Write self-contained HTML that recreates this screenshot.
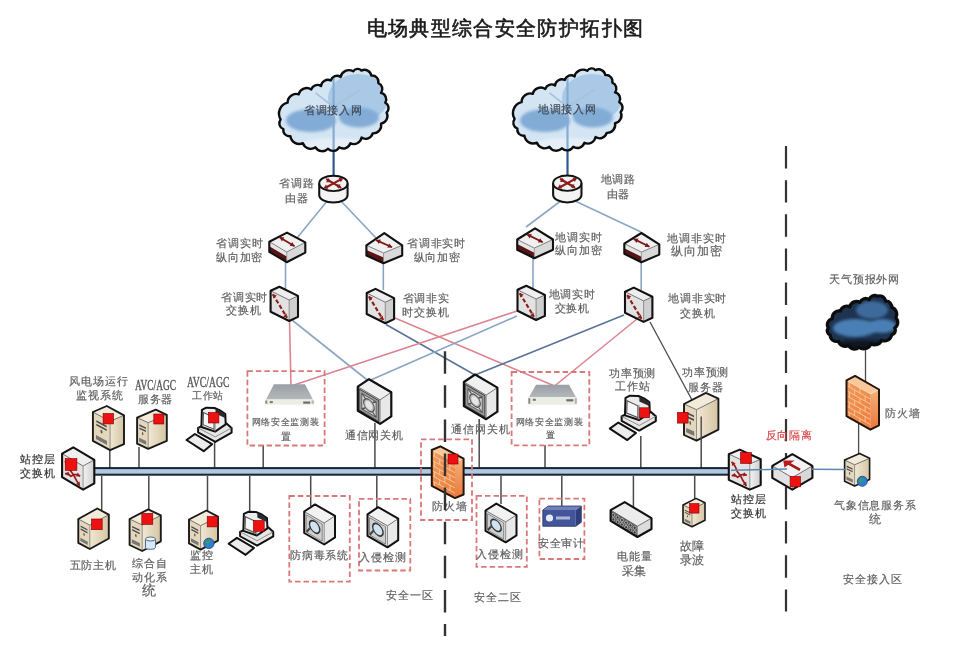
<!DOCTYPE html><html><head><meta charset="utf-8"><style>
html,body{margin:0;padding:0;background:#fff;}
svg{display:block;filter:blur(0.5px);}
text{font-family:"Liberation Serif",serif;}
</style></head><body>
<svg width="968" height="645" viewBox="0 0 968 645">
<defs>
<linearGradient id="gCloud" x1="0" y1="0" x2="0" y2="1">
<stop offset="0" stop-color="#c9dff0"/><stop offset="0.6" stop-color="#b4d0e8"/><stop offset="1" stop-color="#e6f0f8"/></linearGradient>
<linearGradient id="gDark" x1="0" y1="0" x2="0" y2="1">
<stop offset="0" stop-color="#2e4d6e"/><stop offset="1" stop-color="#14253a"/></linearGradient>
<linearGradient id="gBrick" x1="0" y1="0" x2="1" y2="1">
<stop offset="0" stop-color="#f6b27a"/><stop offset="1" stop-color="#e9843e"/></linearGradient>
<linearGradient id="gBeige" x1="0" y1="0" x2="1" y2="0">
<stop offset="0" stop-color="#f1e8d4"/><stop offset="1" stop-color="#d4c4a2"/></linearGradient>
<linearGradient id="gMon" x1="0" y1="0" x2="0" y2="1"><stop offset="0" stop-color="#9a9fa4"/><stop offset="1" stop-color="#b4b8bb"/></linearGradient>
<linearGradient id="gFwF" x1="0" y1="0" x2="1" y2="1"><stop offset="0" stop-color="#f29a5c"/><stop offset="1" stop-color="#ea7e3c"/></linearGradient>
<linearGradient id="gFwR" x1="0" y1="0" x2="0" y2="1"><stop offset="0" stop-color="#f6b07a"/><stop offset="1" stop-color="#e9783a"/></linearGradient>
<linearGradient id="gGray" x1="0" y1="0" x2="1" y2="0">
<stop offset="0" stop-color="#f2f2f2"/><stop offset="1" stop-color="#cfcfcf"/></linearGradient>
<filter id="blur1" x="-50%" y="-50%" width="200%" height="200%"><feGaussianBlur stdDeviation="1.5"/></filter>
<pattern id="pBrick" width="8" height="6" patternUnits="userSpaceOnUse">
<rect width="8" height="6" fill="#f2a466"/>
<path d="M0 0.5H8M0 3.5H8M2 0.5V3.5M6 3.5V6" stroke="#c9703a" stroke-width="0.8" fill="none"/>
</pattern>
</defs>

<rect width="968" height="645" fill="#fff"/>
<text x="366.6" y="34.6" font-size="20" letter-spacing="1.36" fill="#1a1a1a" stroke="#1a1a1a" stroke-width="0.6" style="font-family:'Liberation Sans'">电场典型综合安全防护拓扑图</text>
<line x1="333.6" y1="140" x2="333.6" y2="178" stroke="#2f5a8f" stroke-width="2.2"/>
<line x1="567.5" y1="140" x2="567.5" y2="178" stroke="#2f5a8f" stroke-width="2.2"/>
<line x1="328" y1="200" x2="297" y2="238" stroke="#8aa6c4" stroke-width="1.6"/>
<line x1="340" y1="200" x2="376" y2="238" stroke="#8aa6c4" stroke-width="1.6"/>
<line x1="562" y1="200" x2="526" y2="227" stroke="#8aa6c4" stroke-width="1.6"/>
<line x1="573" y1="200" x2="641" y2="232" stroke="#8aa6c4" stroke-width="1.6"/>
<line x1="285.5" y1="262" x2="285.5" y2="290" stroke="#8aa6c4" stroke-width="1.6"/>
<line x1="383.3" y1="262" x2="383.3" y2="290" stroke="#8aa6c4" stroke-width="1.6"/>
<line x1="533" y1="256" x2="533" y2="288" stroke="#8aa6c4" stroke-width="1.6"/>
<line x1="641.2" y1="262" x2="641.2" y2="290" stroke="#8aa6c4" stroke-width="1.6"/>
<line x1="289.5" y1="320" x2="291" y2="386" stroke="#dc8590" stroke-width="1.6"/>
<line x1="292" y1="320" x2="368.5" y2="381" stroke="#8aa6c4" stroke-width="1.6"/>
<line x1="386" y1="324.5" x2="475" y2="375" stroke="#5a7398" stroke-width="1.6"/>
<line x1="395" y1="318" x2="554.5" y2="386" stroke="#dc8590" stroke-width="1.6"/>
<line x1="517" y1="311" x2="291" y2="386" stroke="#dc8590" stroke-width="1.6"/>
<line x1="517" y1="316" x2="368.5" y2="381" stroke="#8aa6c4" stroke-width="1.6"/>
<line x1="624" y1="315" x2="475" y2="375" stroke="#5a7398" stroke-width="1.6"/>
<line x1="637" y1="319" x2="554.5" y2="386" stroke="#dc8590" stroke-width="1.6"/>
<line x1="650" y1="322" x2="692" y2="400" stroke="#4a4a4a" stroke-width="1.3"/>
<line x1="109.8" y1="449" x2="109.8" y2="468" stroke="#4a4a4a" stroke-width="1.5"/>
<line x1="139" y1="447" x2="139" y2="468" stroke="#4a4a4a" stroke-width="1.5"/>
<line x1="214.6" y1="441" x2="214.6" y2="468" stroke="#4a4a4a" stroke-width="1.5"/>
<line x1="263.2" y1="445" x2="263.2" y2="468" stroke="#4a4a4a" stroke-width="1.5"/>
<line x1="374.9" y1="423" x2="374.9" y2="468" stroke="#4a4a4a" stroke-width="1.5"/>
<line x1="479.2" y1="419" x2="479.2" y2="468" stroke="#4a4a4a" stroke-width="1.5"/>
<line x1="545" y1="445" x2="545" y2="468" stroke="#4a4a4a" stroke-width="1.5"/>
<line x1="640.8" y1="436" x2="640.8" y2="468" stroke="#4a4a4a" stroke-width="1.5"/>
<line x1="701.2" y1="416" x2="701.2" y2="468" stroke="#4a4a4a" stroke-width="1.5"/>
<line x1="101.7" y1="476" x2="101.7" y2="510" stroke="#4a4a4a" stroke-width="1.5"/>
<line x1="148.8" y1="476" x2="148.8" y2="510" stroke="#4a4a4a" stroke-width="1.5"/>
<line x1="207.5" y1="476" x2="207.5" y2="512" stroke="#4a4a4a" stroke-width="1.5"/>
<line x1="249.7" y1="476" x2="249.7" y2="512" stroke="#4a4a4a" stroke-width="1.5"/>
<line x1="310.7" y1="476" x2="310.7" y2="506" stroke="#4a4a4a" stroke-width="1.5"/>
<line x1="376.8" y1="476" x2="376.8" y2="508" stroke="#4a4a4a" stroke-width="1.5"/>
<line x1="501" y1="476" x2="501" y2="504" stroke="#4a4a4a" stroke-width="1.5"/>
<line x1="561.8" y1="476" x2="561.8" y2="507" stroke="#4a4a4a" stroke-width="1.5"/>
<line x1="633.4" y1="476" x2="633.4" y2="507" stroke="#4a4a4a" stroke-width="1.5"/>
<line x1="694.7" y1="476" x2="694.7" y2="499" stroke="#4a4a4a" stroke-width="1.5"/>
<line x1="865.5" y1="346" x2="865.5" y2="382" stroke="#4a4a4a" stroke-width="1.3"/>
<line x1="858.6" y1="423" x2="858.6" y2="456" stroke="#4a4a4a" stroke-width="1.3"/>
<rect x="90" y="468.1" width="640" height="6.6" fill="#afc8e3" stroke="#1b2230" stroke-width="2"/>
<line x1="786" y1="146.1" x2="786" y2="611.5" stroke="#333" stroke-width="2.2" stroke-dasharray="22.4 11.7"/>
<clipPath id="clip1"><path d="M280.6,119.4 A11.2,11.2 0 0 1 287.6,102.7 A8.6,8.6 0 0 1 298.7,94.3 A8.4,8.4 0 0 1 311.3,89.4 A6.4,6.4 0 0 1 321.0,86.0 A7.0,7.0 0 0 1 330.8,80.4 A6.5,6.5 0 0 1 340.6,76.9 A8.5,8.5 0 0 1 353.2,71.3 A5.2,5.2 0 0 1 361.5,70.6 A6.8,6.8 0 0 1 371.3,75.5 A6.4,6.4 0 0 1 378.3,83.1 A6.3,6.3 0 0 1 381.0,92.9 A6.6,6.6 0 0 1 385.3,102.7 A6.1,6.1 0 0 1 386.6,112.5 A7.7,7.7 0 0 1 381.0,123.6 A8.0,8.0 0 0 1 372.7,133.4 A7.4,7.4 0 0 1 361.5,137.6 A7.7,7.7 0 0 1 350.4,143.2 A7.4,7.4 0 0 1 339.2,147.3 A7.0,7.0 0 0 1 328.0,148.7 A7.8,7.8 0 0 1 315.5,147.3 A8.2,8.2 0 0 1 302.9,143.2 A8.9,8.9 0 0 1 290.4,136.2 A6.1,6.1 0 0 1 283.4,129.2 A6.3,6.3 0 0 1 280.6,119.4 Z"/></clipPath><path d="M280.6,119.4 A11.2,11.2 0 0 1 287.6,102.7 A8.6,8.6 0 0 1 298.7,94.3 A8.4,8.4 0 0 1 311.3,89.4 A6.4,6.4 0 0 1 321.0,86.0 A7.0,7.0 0 0 1 330.8,80.4 A6.5,6.5 0 0 1 340.6,76.9 A8.5,8.5 0 0 1 353.2,71.3 A5.2,5.2 0 0 1 361.5,70.6 A6.8,6.8 0 0 1 371.3,75.5 A6.4,6.4 0 0 1 378.3,83.1 A6.3,6.3 0 0 1 381.0,92.9 A6.6,6.6 0 0 1 385.3,102.7 A6.1,6.1 0 0 1 386.6,112.5 A7.7,7.7 0 0 1 381.0,123.6 A8.0,8.0 0 0 1 372.7,133.4 A7.4,7.4 0 0 1 361.5,137.6 A7.7,7.7 0 0 1 350.4,143.2 A7.4,7.4 0 0 1 339.2,147.3 A7.0,7.0 0 0 1 328.0,148.7 A7.8,7.8 0 0 1 315.5,147.3 A8.2,8.2 0 0 1 302.9,143.2 A8.9,8.9 0 0 1 290.4,136.2 A6.1,6.1 0 0 1 283.4,129.2 A6.3,6.3 0 0 1 280.6,119.4 Z" fill="#d3e4f3"/><g clip-path="url(#clip1)"><ellipse cx="358" cy="98" rx="30" ry="24" fill="#a9c9e7"/><ellipse cx="311" cy="120.5" rx="25" ry="11.5" fill="#82acd6" filter="url(#blur1)"/><ellipse cx="359" cy="117.5" rx="20" ry="10" fill="#82acd6" filter="url(#blur1)"/><ellipse cx="335" cy="147" rx="40" ry="9" fill="#e6eff8" filter="url(#blur1)"/><line x1="333.6" y1="70" x2="333.6" y2="150" stroke="#86acd3" stroke-width="2.2"/><line x1="315.5" y1="92.9" x2="333.6" y2="107" stroke="#a6c2dc" stroke-width="1.6"/><line x1="360" y1="90" x2="333.6" y2="107" stroke="#a6c2dc" stroke-width="1.6"/></g><path d="M280.6,119.4 A11.2,11.2 0 0 1 287.6,102.7 A8.6,8.6 0 0 1 298.7,94.3 A8.4,8.4 0 0 1 311.3,89.4 A6.4,6.4 0 0 1 321.0,86.0 A7.0,7.0 0 0 1 330.8,80.4 A6.5,6.5 0 0 1 340.6,76.9 A8.5,8.5 0 0 1 353.2,71.3 A5.2,5.2 0 0 1 361.5,70.6 A6.8,6.8 0 0 1 371.3,75.5 A6.4,6.4 0 0 1 378.3,83.1 A6.3,6.3 0 0 1 381.0,92.9 A6.6,6.6 0 0 1 385.3,102.7 A6.1,6.1 0 0 1 386.6,112.5 A7.7,7.7 0 0 1 381.0,123.6 A8.0,8.0 0 0 1 372.7,133.4 A7.4,7.4 0 0 1 361.5,137.6 A7.7,7.7 0 0 1 350.4,143.2 A7.4,7.4 0 0 1 339.2,147.3 A7.0,7.0 0 0 1 328.0,148.7 A7.8,7.8 0 0 1 315.5,147.3 A8.2,8.2 0 0 1 302.9,143.2 A8.9,8.9 0 0 1 290.4,136.2 A6.1,6.1 0 0 1 283.4,129.2 A6.3,6.3 0 0 1 280.6,119.4 Z" fill="none" stroke="#0d0d0d" stroke-width="2.4" stroke-linejoin="round"/>
<clipPath id="clip2"><path d="M514.6,118.9 A11.2,11.2 0 0 1 521.6,102.2 A8.6,8.6 0 0 1 532.7,93.8 A8.4,8.4 0 0 1 545.3,88.9 A6.4,6.4 0 0 1 555.0,85.5 A7.0,7.0 0 0 1 564.8,79.9 A6.5,6.5 0 0 1 574.6,76.4 A8.5,8.5 0 0 1 587.2,70.8 A5.2,5.2 0 0 1 595.5,70.1 A6.8,6.8 0 0 1 605.3,75.0 A6.4,6.4 0 0 1 612.3,82.6 A6.3,6.3 0 0 1 615.0,92.4 A6.6,6.6 0 0 1 619.3,102.2 A6.1,6.1 0 0 1 620.6,112.0 A7.7,7.7 0 0 1 615.0,123.1 A8.0,8.0 0 0 1 606.7,132.9 A7.4,7.4 0 0 1 595.5,137.1 A7.7,7.7 0 0 1 584.4,142.7 A7.4,7.4 0 0 1 573.2,146.8 A7.0,7.0 0 0 1 562.0,148.2 A7.8,7.8 0 0 1 549.5,146.8 A8.2,8.2 0 0 1 536.9,142.7 A8.9,8.9 0 0 1 524.4,135.7 A6.1,6.1 0 0 1 517.4,128.7 A6.3,6.3 0 0 1 514.6,118.9 Z"/></clipPath><path d="M514.6,118.9 A11.2,11.2 0 0 1 521.6,102.2 A8.6,8.6 0 0 1 532.7,93.8 A8.4,8.4 0 0 1 545.3,88.9 A6.4,6.4 0 0 1 555.0,85.5 A7.0,7.0 0 0 1 564.8,79.9 A6.5,6.5 0 0 1 574.6,76.4 A8.5,8.5 0 0 1 587.2,70.8 A5.2,5.2 0 0 1 595.5,70.1 A6.8,6.8 0 0 1 605.3,75.0 A6.4,6.4 0 0 1 612.3,82.6 A6.3,6.3 0 0 1 615.0,92.4 A6.6,6.6 0 0 1 619.3,102.2 A6.1,6.1 0 0 1 620.6,112.0 A7.7,7.7 0 0 1 615.0,123.1 A8.0,8.0 0 0 1 606.7,132.9 A7.4,7.4 0 0 1 595.5,137.1 A7.7,7.7 0 0 1 584.4,142.7 A7.4,7.4 0 0 1 573.2,146.8 A7.0,7.0 0 0 1 562.0,148.2 A7.8,7.8 0 0 1 549.5,146.8 A8.2,8.2 0 0 1 536.9,142.7 A8.9,8.9 0 0 1 524.4,135.7 A6.1,6.1 0 0 1 517.4,128.7 A6.3,6.3 0 0 1 514.6,118.9 Z" fill="#d3e4f3"/><g clip-path="url(#clip2)"><ellipse cx="592" cy="98" rx="30" ry="24" fill="#a9c9e7"/><ellipse cx="545" cy="120.5" rx="25" ry="11.5" fill="#82acd6" filter="url(#blur1)"/><ellipse cx="593" cy="117.5" rx="20" ry="10" fill="#82acd6" filter="url(#blur1)"/><ellipse cx="569" cy="147" rx="40" ry="9" fill="#e6eff8" filter="url(#blur1)"/><line x1="567.5" y1="70" x2="567.5" y2="150" stroke="#86acd3" stroke-width="2.2"/><line x1="549.5" y1="92.9" x2="567.5" y2="107" stroke="#a6c2dc" stroke-width="1.6"/><line x1="594" y1="90" x2="567.5" y2="107" stroke="#a6c2dc" stroke-width="1.6"/></g><path d="M514.6,118.9 A11.2,11.2 0 0 1 521.6,102.2 A8.6,8.6 0 0 1 532.7,93.8 A8.4,8.4 0 0 1 545.3,88.9 A6.4,6.4 0 0 1 555.0,85.5 A7.0,7.0 0 0 1 564.8,79.9 A6.5,6.5 0 0 1 574.6,76.4 A8.5,8.5 0 0 1 587.2,70.8 A5.2,5.2 0 0 1 595.5,70.1 A6.8,6.8 0 0 1 605.3,75.0 A6.4,6.4 0 0 1 612.3,82.6 A6.3,6.3 0 0 1 615.0,92.4 A6.6,6.6 0 0 1 619.3,102.2 A6.1,6.1 0 0 1 620.6,112.0 A7.7,7.7 0 0 1 615.0,123.1 A8.0,8.0 0 0 1 606.7,132.9 A7.4,7.4 0 0 1 595.5,137.1 A7.7,7.7 0 0 1 584.4,142.7 A7.4,7.4 0 0 1 573.2,146.8 A7.0,7.0 0 0 1 562.0,148.2 A7.8,7.8 0 0 1 549.5,146.8 A8.2,8.2 0 0 1 536.9,142.7 A8.9,8.9 0 0 1 524.4,135.7 A6.1,6.1 0 0 1 517.4,128.7 A6.3,6.3 0 0 1 514.6,118.9 Z" fill="none" stroke="#0d0d0d" stroke-width="2.4" stroke-linejoin="round"/>
<clipPath id="clip3"><path d="M828.2,327.9 A6.2,6.2 0 0 1 832.3,318.7 A7.0,7.0 0 0 1 840.5,311.0 A6.2,6.2 0 0 1 849.7,306.9 A6.9,6.9 0 0 1 859.9,302.3 A5.9,5.9 0 0 1 869.1,299.8 A5.6,5.6 0 0 1 877.3,296.2 A6.0,6.0 0 0 1 885.5,301.3 A5.3,5.3 0 0 1 891.6,307.4 A6.9,6.9 0 0 1 895.7,317.7 A6.4,6.4 0 0 1 894.7,327.9 A4.8,4.8 0 0 1 891.6,335.0 A7.1,7.1 0 0 1 881.4,340.2 A6.7,6.7 0 0 1 871.1,343.7 A7.9,7.9 0 0 1 858.9,347.3 A6.5,6.5 0 0 1 848.6,345.3 A6.8,6.8 0 0 1 838.4,341.2 A6.4,6.4 0 0 1 830.2,335.0 A4.6,4.6 0 0 1 828.2,327.9 Z"/></clipPath><path d="M828.2,327.9 A6.2,6.2 0 0 1 832.3,318.7 A7.0,7.0 0 0 1 840.5,311.0 A6.2,6.2 0 0 1 849.7,306.9 A6.9,6.9 0 0 1 859.9,302.3 A5.9,5.9 0 0 1 869.1,299.8 A5.6,5.6 0 0 1 877.3,296.2 A6.0,6.0 0 0 1 885.5,301.3 A5.3,5.3 0 0 1 891.6,307.4 A6.9,6.9 0 0 1 895.7,317.7 A6.4,6.4 0 0 1 894.7,327.9 A4.8,4.8 0 0 1 891.6,335.0 A7.1,7.1 0 0 1 881.4,340.2 A6.7,6.7 0 0 1 871.1,343.7 A7.9,7.9 0 0 1 858.9,347.3 A6.5,6.5 0 0 1 848.6,345.3 A6.8,6.8 0 0 1 838.4,341.2 A6.4,6.4 0 0 1 830.2,335.0 A4.6,4.6 0 0 1 828.2,327.9 Z" fill="#1d3350"/><g clip-path="url(#clip3)"><ellipse cx="855" cy="328" rx="22" ry="9" fill="#4a7fb4" filter="url(#blur1)"/><ellipse cx="882" cy="326" rx="14" ry="7" fill="#4a7fb4" filter="url(#blur1)"/><ellipse cx="872" cy="310" rx="16" ry="9" fill="#3c6a9a" filter="url(#blur1)"/><ellipse cx="862" cy="346" rx="30" ry="6" fill="#0b1520" filter="url(#blur1)"/></g><path d="M828.2,327.9 A6.2,6.2 0 0 1 832.3,318.7 A7.0,7.0 0 0 1 840.5,311.0 A6.2,6.2 0 0 1 849.7,306.9 A6.9,6.9 0 0 1 859.9,302.3 A5.9,5.9 0 0 1 869.1,299.8 A5.6,5.6 0 0 1 877.3,296.2 A6.0,6.0 0 0 1 885.5,301.3 A5.3,5.3 0 0 1 891.6,307.4 A6.9,6.9 0 0 1 895.7,317.7 A6.4,6.4 0 0 1 894.7,327.9 A4.8,4.8 0 0 1 891.6,335.0 A7.1,7.1 0 0 1 881.4,340.2 A6.7,6.7 0 0 1 871.1,343.7 A7.9,7.9 0 0 1 858.9,347.3 A6.5,6.5 0 0 1 848.6,345.3 A6.8,6.8 0 0 1 838.4,341.2 A6.4,6.4 0 0 1 830.2,335.0 A4.6,4.6 0 0 1 828.2,327.9 Z" fill="none" stroke="#0d0d0d" stroke-width="3.2" stroke-linejoin="round"/>
<path d="M319.2,183.4 V194.9 A14.2,7.7 0 0 0 347.59999999999997,194.9 V183.4 Z" fill="#e4e4e4"/><path d="M321.2,186.4 V194.9 A12.2,6.7 0 0 0 345.59999999999997,194.9 V186.4 Z" fill="#f4f4f4"/><ellipse cx="333.4" cy="183.4" rx="14.2" ry="7.7" fill="#f2f2f2" stroke="#111" stroke-width="1.9"/><path d="M319.2,183.4 V194.9 A14.2,7.7 0 0 0 347.59999999999997,194.9 V183.4" fill="none" stroke="#111" stroke-width="2"/><g stroke="#8b1c1c" stroke-width="2.2" fill="none" stroke-linecap="round"><line x1="326.4" y1="187.20000000000002" x2="340.4" y2="179.6"/><line x1="326.9" y1="179.4" x2="340.4" y2="187.4"/></g><polygon points="323.4,188.6 326.0,184.5 328.2,188.8" fill="#8b1c1c"/><polygon points="343.4,178.2 340.8,182.3 338.6,178.0" fill="#8b1c1c"/><polygon points="330.9,182.2 326.1,182.2 328.5,178.0" fill="#8b1c1c"/><polygon points="335.9,184.6 340.7,184.6 338.3,188.8" fill="#8b1c1c"/>
<path d="M553.0999999999999,183.2 V194.7 A14.2,7.7 0 0 0 581.5,194.7 V183.2 Z" fill="#e4e4e4"/><path d="M555.0999999999999,186.2 V194.7 A12.2,6.7 0 0 0 579.5,194.7 V186.2 Z" fill="#f4f4f4"/><ellipse cx="567.3" cy="183.2" rx="14.2" ry="7.7" fill="#f2f2f2" stroke="#111" stroke-width="1.9"/><path d="M553.0999999999999,183.2 V194.7 A14.2,7.7 0 0 0 581.5,194.7 V183.2" fill="none" stroke="#111" stroke-width="2"/><g stroke="#8b1c1c" stroke-width="2.2" fill="none" stroke-linecap="round"><line x1="560.3" y1="187.0" x2="574.3" y2="179.39999999999998"/><line x1="560.8" y1="179.2" x2="574.3" y2="187.2"/></g><polygon points="557.3,188.4 559.9,184.3 562.1,188.6" fill="#8b1c1c"/><polygon points="577.3,178.0 574.7,182.1 572.5,177.8" fill="#8b1c1c"/><polygon points="564.8,182.0 560.0,182.0 562.4,177.8" fill="#8b1c1c"/><polygon points="569.8,184.4 574.6,184.4 572.2,188.6" fill="#8b1c1c"/>
<polygon points="269.3,241.7 287.0,232.6 305.3,242.4 286.7,252.0" fill="#f0f0f0"/><polygon points="269.3,241.7 286.7,252.0 286.7,262.2 269.3,251.9" fill="#e6e6e6"/><polygon points="286.7,252.0 305.3,242.4 305.3,252.6 286.7,262.2" fill="#d9d9d9"/><polygon points="269.3,246.3 286.7,256.6 286.7,262.2 269.3,251.9" fill="#5a1414"/><polyline points="269.3,241.7 286.7,252.0 305.3,242.4" fill="none" stroke="#666" stroke-width="0.8"/><line x1="286.7" y1="252.0" x2="286.7" y2="262.2" stroke="#888" stroke-width="0.8"/><polygon points="269.3,241.7 287.0,232.6 305.3,242.4 305.3,252.6 286.7,262.2 269.3,251.9" fill="none" stroke="#111" stroke-width="2.1" stroke-linejoin="round"/><line x1="279.5" y1="237.2" x2="294.6" y2="246.2" stroke="#7a1717" stroke-width="1.8"/><polygon points="279.5,237.2 284.3,237.3 281.9,241.4" fill="#7a1717"/><polygon points="294.6,246.2 289.8,246.1 292.3,242.0" fill="#7a1717"/>
<polygon points="366.4,245.3 384.3,233.1 402.2,245.3 383.5,253.0" fill="#f0f0f0"/><polygon points="366.4,245.3 383.5,253.0 383.5,263.2 366.4,255.5" fill="#e6e6e6"/><polygon points="383.5,253.0 402.2,245.3 402.2,255.5 383.5,263.2" fill="#d9d9d9"/><polygon points="366.4,249.9 383.5,257.6 383.5,263.2 366.4,255.5" fill="#5a1414"/><polyline points="366.4,245.3 383.5,253.0 402.2,245.3" fill="none" stroke="#666" stroke-width="0.8"/><line x1="383.5" y1="253.0" x2="383.5" y2="263.2" stroke="#888" stroke-width="0.8"/><polygon points="366.4,245.3 384.3,233.1 402.2,245.3 402.2,255.5 383.5,263.2 366.4,255.5" fill="none" stroke="#111" stroke-width="2.1" stroke-linejoin="round"/><line x1="376.1" y1="240.1" x2="392.1" y2="247.3" stroke="#7a1717" stroke-width="1.8"/><polygon points="376.1,240.1 380.9,239.6 378.9,244.0" fill="#7a1717"/><polygon points="392.1,247.3 387.3,247.8 389.3,243.4" fill="#7a1717"/>
<polygon points="517.2,239.5 535.1,228.3 553.0,239.5 534.3,248.1" fill="#f0f0f0"/><polygon points="517.2,239.5 534.3,248.1 534.3,258.3 517.2,249.7" fill="#e6e6e6"/><polygon points="534.3,248.1 553.0,239.5 553.0,249.7 534.3,258.3" fill="#d9d9d9"/><polygon points="517.2,244.1 534.3,252.7 534.3,258.3 517.2,249.7" fill="#5a1414"/><polyline points="517.2,239.5 534.3,248.1 553.0,239.5" fill="none" stroke="#666" stroke-width="0.8"/><line x1="534.3" y1="248.10000000000002" x2="534.3" y2="258.3" stroke="#888" stroke-width="0.8"/><polygon points="517.2,239.5 535.1,228.3 553.0,239.5 553.0,249.7 534.3,258.3 517.2,249.7" fill="none" stroke="#111" stroke-width="2.1" stroke-linejoin="round"/><line x1="527.0" y1="234.4" x2="542.8" y2="242.3" stroke="#7a1717" stroke-width="1.8"/><polygon points="527.0,234.4 531.9,234.1 529.7,238.4" fill="#7a1717"/><polygon points="542.8,242.3 537.9,242.6 540.1,238.3" fill="#7a1717"/>
<polygon points="624.3,243.6 641.4,233.0 659.3,244.4 641.4,252.1" fill="#f0f0f0"/><polygon points="624.3,243.6 641.4,252.1 641.4,262.3 624.3,253.8" fill="#e6e6e6"/><polygon points="641.4,252.1 659.3,244.4 659.3,254.6 641.4,262.3" fill="#d9d9d9"/><polygon points="624.3,248.2 641.4,256.7 641.4,262.3 624.3,253.8" fill="#5a1414"/><polyline points="624.3,243.6 641.4,252.1 659.3,244.4" fill="none" stroke="#666" stroke-width="0.8"/><line x1="641.4" y1="252.10000000000002" x2="641.4" y2="262.3" stroke="#888" stroke-width="0.8"/><polygon points="624.3,243.6 641.4,233.0 659.3,244.4 659.3,254.6 641.4,262.3 624.3,253.8" fill="none" stroke="#111" stroke-width="2.1" stroke-linejoin="round"/><line x1="633.7" y1="238.9" x2="649.5" y2="246.7" stroke="#7a1717" stroke-width="1.8"/><polygon points="633.7,238.9 638.5,238.6 636.4,242.9" fill="#7a1717"/><polygon points="649.5,246.7 644.7,247.0 646.8,242.7" fill="#7a1717"/>
<polygon points="270.6,290.8 279.4,286.7 298.0,295.9 289.2,300.0" fill="#eeeeee"/><polygon points="270.6,290.8 289.2,300.0 289.2,321.0 270.6,311.8" fill="#e2e2e2"/><polygon points="289.2,300.0 298.0,295.9 298.0,316.9 289.2,321.0" fill="#cfcfcf"/><polyline points="270.6,290.8 289.2,300.0 298.0,295.9" fill="none" stroke="#555" stroke-width="0.8"/><line x1="289.2" y1="300.0" x2="289.2" y2="321.0" stroke="#777" stroke-width="0.8"/><line x1="272.8" y1="294.2" x2="287.1" y2="317.8" stroke="#8b1c1c" stroke-width="2.1" stroke-dasharray="4.2 2.2"/><polygon points="272.8,294.2 276.8,295.4 273.3,298.6" fill="#8b1c1c"/><polygon points="287.1,317.8 283.1,316.6 286.6,313.4" fill="#8b1c1c"/><polygon points="270.6,290.8 279.4,286.7 298.0,295.9 298.0,316.9 289.2,321.0 270.6,311.8" fill="none" stroke="#111" stroke-width="2.1" stroke-linejoin="round"/>
<polygon points="366.7,293.0 375.5,288.9 394.1,298.1 385.3,302.2" fill="#eeeeee"/><polygon points="366.7,293.0 385.3,302.2 385.3,323.2 366.7,314.0" fill="#e2e2e2"/><polygon points="385.3,302.2 394.1,298.1 394.1,319.1 385.3,323.2" fill="#cfcfcf"/><polyline points="366.7,293.0 385.3,302.2 394.1,298.1" fill="none" stroke="#555" stroke-width="0.8"/><line x1="385.3" y1="302.2" x2="385.3" y2="323.2" stroke="#777" stroke-width="0.8"/><line x1="368.9" y1="296.4" x2="383.2" y2="320" stroke="#8b1c1c" stroke-width="2.1" stroke-dasharray="4.2 2.2"/><polygon points="368.9,296.4 372.9,297.6 369.4,300.8" fill="#8b1c1c"/><polygon points="383.2,320.0 379.2,318.8 382.7,315.6" fill="#8b1c1c"/><polygon points="366.7,293.0 375.5,288.9 394.1,298.1 394.1,319.1 385.3,323.2 366.7,314.0" fill="none" stroke="#111" stroke-width="2.1" stroke-linejoin="round"/>
<polygon points="517.5,289.8 526.3,285.7 544.9,294.9 536.1,299.0" fill="#eeeeee"/><polygon points="517.5,289.8 536.1,299.0 536.1,320.0 517.5,310.8" fill="#e2e2e2"/><polygon points="536.1,299.0 544.9,294.9 544.9,315.9 536.1,320.0" fill="#cfcfcf"/><polyline points="517.5,289.8 536.1,299.0 544.9,294.9" fill="none" stroke="#555" stroke-width="0.8"/><line x1="536.1" y1="299.0" x2="536.1" y2="320.0" stroke="#777" stroke-width="0.8"/><line x1="519.7" y1="293.2" x2="534.0" y2="316.8" stroke="#8b1c1c" stroke-width="2.1" stroke-dasharray="4.2 2.2"/><polygon points="519.7,293.2 523.7,294.4 520.2,297.6" fill="#8b1c1c"/><polygon points="534.0,316.8 530.0,315.6 533.5,312.4" fill="#8b1c1c"/><polygon points="517.5,289.8 526.3,285.7 544.9,294.9 544.9,315.9 536.1,320.0 517.5,310.8" fill="none" stroke="#111" stroke-width="2.1" stroke-linejoin="round"/>
<polygon points="625.0,291.7 633.8,287.6 652.4,296.8 643.6,300.9" fill="#eeeeee"/><polygon points="625.0,291.7 643.6,300.9 643.6,321.9 625.0,312.7" fill="#e2e2e2"/><polygon points="643.6,300.9 652.4,296.8 652.4,317.8 643.6,321.9" fill="#cfcfcf"/><polyline points="625.0,291.7 643.6,300.9 652.4,296.8" fill="none" stroke="#555" stroke-width="0.8"/><line x1="643.6" y1="300.9" x2="643.6" y2="321.9" stroke="#777" stroke-width="0.8"/><line x1="627.2" y1="295.09999999999997" x2="641.5" y2="318.7" stroke="#8b1c1c" stroke-width="2.1" stroke-dasharray="4.2 2.2"/><polygon points="627.2,295.1 631.2,296.3 627.7,299.5" fill="#8b1c1c"/><polygon points="641.5,318.7 637.5,317.5 641.0,314.3" fill="#8b1c1c"/><polygon points="625.0,291.7 633.8,287.6 652.4,296.8 652.4,317.8 643.6,321.9 625.0,312.7" fill="none" stroke="#111" stroke-width="2.1" stroke-linejoin="round"/>
<rect x="247.4" y="371.2" width="77.20000000000002" height="74.30000000000001" fill="none" stroke="#d97878" stroke-width="1.8" stroke-dasharray="5.5 3"/>
<rect x="511.6" y="372" width="77.69999999999993" height="73.30000000000001" fill="none" stroke="#d97878" stroke-width="1.8" stroke-dasharray="5.5 3"/>
<rect x="421" y="439.3" width="51" height="80.69999999999999" fill="none" stroke="#d97878" stroke-width="1.8" stroke-dasharray="5.5 3"/>
<rect x="289.3" y="496" width="60.5" height="85.70000000000005" fill="none" stroke="#d97878" stroke-width="1.8" stroke-dasharray="5.5 3"/>
<rect x="359" y="498.9" width="51.30000000000001" height="71.60000000000002" fill="none" stroke="#d97878" stroke-width="1.8" stroke-dasharray="5.5 3"/>
<rect x="476.5" y="495.8" width="50.299999999999955" height="70.99999999999994" fill="none" stroke="#d97878" stroke-width="1.8" stroke-dasharray="5.5 3"/>
<rect x="539.4" y="498.7" width="45.0" height="60.30000000000001" fill="none" stroke="#d97878" stroke-width="1.8" stroke-dasharray="5.5 3"/>
<polygon points="274.0,384.3 305.0,384.3 313.0,399.5 266.0,399.5" fill="url(#gMon)"/><rect x="264.8" y="399.5" width="49.4" height="5.2" fill="#ecede4"/><rect x="265.3" y="400.5" width="2" height="3.2" fill="#8a8d86"/><rect x="311.7" y="400.5" width="2" height="3.2" fill="#b0b3ac"/><rect x="269.8" y="401.1" width="3" height="2" fill="#6f7a6a"/><rect x="303.2" y="401.5" width="7" height="2.2" fill="#6a6d66"/>
<polygon points="536.0,384.7 569.0,384.7 576.1,397.2 529.0,397.2" fill="url(#gMon)"/><rect x="527.8" y="397.2" width="49.5" height="7.5" fill="#ecede4"/><rect x="528.3" y="398.2" width="2" height="5.5" fill="#8a8d86"/><rect x="574.8" y="398.2" width="2" height="5.5" fill="#b0b3ac"/><rect x="532.8" y="398.8" width="3" height="2" fill="#6f7a6a"/><rect x="566.3" y="399.2" width="7" height="2.2" fill="#6a6d66"/>
<polygon points="357.8,386.7 369.0,379.2 391.3,392.3 380.1,399.8" fill="#f0f0f0"/><polygon points="357.8,386.7 380.1,399.8 380.1,423.9 357.8,410.8" fill="#d9d9d9"/><polygon points="380.1,399.8 391.3,392.3 391.3,416.4 380.1,423.9" fill="#e8e8e8"/><polyline points="357.8,386.7 380.1,399.8 391.3,392.3" fill="none" stroke="#555" stroke-width="0.8"/><line x1="380.1" y1="399.8" x2="380.1" y2="423.9" stroke="#777" stroke-width="0.8"/><g transform="matrix(0.223,0.131,0,0.24100000000000002,357.8,386.7)"><rect x="6" y="6" width="88" height="88" fill="#9a9a9a" stroke="#444" stroke-width="5"/><rect x="18" y="18" width="64" height="64" fill="#d9d9d9" stroke="#555" stroke-width="4"/><path d="M18,18 L34,30 M82,18 L66,30 M18,82 L34,70 M82,82 L66,70" stroke="#555" stroke-width="6"/><circle cx="50" cy="50" r="24" fill="#bdbdbd" stroke="#555" stroke-width="5"/><circle cx="50" cy="50" r="16" fill="#e6e6e6"/></g><polygon points="357.8,386.7 369.0,379.2 391.3,392.3 391.3,416.4 380.1,423.9 357.8,410.8" fill="none" stroke="#111" stroke-width="2.2" stroke-linejoin="round"/>
<polygon points="463.9,382.0 475.1,374.5 497.4,387.6 486.2,395.1" fill="#f0f0f0"/><polygon points="463.9,382.0 486.2,395.1 486.2,419.2 463.9,406.1" fill="#d9d9d9"/><polygon points="486.2,395.1 497.4,387.6 497.4,411.7 486.2,419.2" fill="#e8e8e8"/><polyline points="463.9,382.0 486.2,395.1 497.4,387.6" fill="none" stroke="#555" stroke-width="0.8"/><line x1="486.2" y1="395.1" x2="486.2" y2="419.2" stroke="#777" stroke-width="0.8"/><g transform="matrix(0.223,0.131,0,0.24100000000000002,463.9,382)"><rect x="6" y="6" width="88" height="88" fill="#9a9a9a" stroke="#444" stroke-width="5"/><rect x="18" y="18" width="64" height="64" fill="#d9d9d9" stroke="#555" stroke-width="4"/><path d="M18,18 L34,30 M82,18 L66,30 M18,82 L34,70 M82,82 L66,70" stroke="#555" stroke-width="6"/><circle cx="50" cy="50" r="24" fill="#bdbdbd" stroke="#555" stroke-width="5"/><circle cx="50" cy="50" r="16" fill="#e6e6e6"/></g><polygon points="463.9,382.0 475.1,374.5 497.4,387.6 497.4,411.7 486.2,419.2 463.9,406.1" fill="none" stroke="#111" stroke-width="2.2" stroke-linejoin="round"/>
<polygon points="62.1,453.6 73.3,447.4 94.3,459.8 83.1,466.0" fill="#efefef"/><polygon points="62.1,453.6 83.1,466.0 83.1,489.6 62.1,477.2" fill="#e3e3e3"/><polygon points="83.1,466.0 94.3,459.8 94.3,483.4 83.1,489.6" fill="url(#gGray)"/><polyline points="62.1,453.6 83.1,466.0 94.3,459.8" fill="none" stroke="#555" stroke-width="0.8"/><line x1="83.1" y1="466.0" x2="83.1" y2="489.6" stroke="#777" stroke-width="0.8"/><polyline points="65.0,461.0 68.4,465.8 70.5,470.8 73.7,475.1 76.4,480.4 79.7,485.7" fill="none" stroke="#9a1a1a" stroke-width="1.7" stroke-linejoin="round"/><polyline points="65.0,473.7 68.4,473.8 70.9,476.3 73.9,474.7 76.8,474.6 80.2,476.1" fill="none" stroke="#9a1a1a" stroke-width="1.7" stroke-linejoin="round"/><polygon points="79.7,485.7 76.0,483.9 79.7,481.5" fill="#9a1a1a"/><polygon points="65.0,461.0 68.9,462.7 65.3,465.2" fill="#9a1a1a"/><polygon points="80.2,476.1 76.0,476.6 77.8,472.6" fill="#9a1a1a"/><polygon points="65.0,473.7 68.7,471.6 68.6,476.0" fill="#9a1a1a"/><polygon points="62.1,453.6 73.3,447.4 94.3,459.8 94.3,483.4 83.1,489.6 62.1,477.2" fill="none" stroke="#111" stroke-width="2.1" stroke-linejoin="round"/><rect x="65.2" y="458.6" width="11.7" height="11.7" fill="#ee1111" stroke="#7a0000" stroke-width="0.6"/>
<polygon points="728.8,454.1 739.7,449.6 760.7,459.3 749.8,463.8" fill="#efefef"/><polygon points="728.8,454.1 749.8,463.8 749.8,489.6 728.8,479.9" fill="#e3e3e3"/><polygon points="749.8,463.8 760.7,459.3 760.7,485.1 749.8,489.6" fill="url(#gGray)"/><polyline points="728.8,454.1 749.8,463.8 760.7,459.3" fill="none" stroke="#555" stroke-width="0.8"/><line x1="749.8" y1="463.8" x2="749.8" y2="489.6" stroke="#777" stroke-width="0.8"/><polyline points="731.7,461.7 735.1,466.3 737.2,471.4 740.3,475.4 743.1,480.8 746.4,486.0" fill="none" stroke="#9a1a1a" stroke-width="1.7" stroke-linejoin="round"/><polyline points="731.7,475.6 735.1,475.1 737.6,477.3 740.6,475.0 743.5,474.3 746.9,475.3" fill="none" stroke="#9a1a1a" stroke-width="1.7" stroke-linejoin="round"/><polygon points="746.4,486.0 742.6,484.2 746.3,481.8" fill="#9a1a1a"/><polygon points="731.7,461.7 735.6,463.3 732.1,465.9" fill="#9a1a1a"/><polygon points="746.9,475.3 742.8,476.4 744.1,472.2" fill="#9a1a1a"/><polygon points="731.7,475.6 735.0,472.9 735.6,477.2" fill="#9a1a1a"/><polygon points="728.8,454.1 739.7,449.6 760.7,459.3 760.7,485.1 749.8,489.6 728.8,479.9" fill="none" stroke="#111" stroke-width="2.1" stroke-linejoin="round"/><rect x="740.5" y="452.5" width="10.9" height="10.9" fill="#ee1111" stroke="#7a0000" stroke-width="0.6"/>
<polygon points="431.8,450.0 440.4,446.3 463.6,458.7 455.0,462.4" fill="#f9c89a"/><polygon points="431.8,450.0 455.0,462.4 455.0,498.2 431.8,485.8" fill="#ee8c4e"/><polygon points="455.0,462.4 463.6,458.7 463.6,494.5 455.0,498.2" fill="url(#gFwR)"/><g transform="matrix(0.23199999999999998,0.124,0,0.358,431.8,450)"><rect x="0" y="0" width="100" height="100" fill="url(#gFwF)"/><path d="M0,14.3H100M0,28.6H100M0,42.9H100M0,57.1H100M0,71.4H100M0,85.7H100M12,0.0V14.3M56,0.0V14.3M34,14.3V28.6M78,14.3V28.6M12,28.6V42.9M56,28.6V42.9M34,42.9V57.1M78,42.9V57.1M12,57.1V71.4M56,57.1V71.4M34,71.4V85.7M78,71.4V85.7M12,85.7V100.0M56,85.7V100.0" stroke="#f8c9a0" stroke-width="0.9" fill="none" vector-effect="non-scaling-stroke"/></g><polyline points="431.8,450.0 455.0,462.4 463.6,458.7" fill="none" stroke="#fbe0c4" stroke-width="0.9"/><polygon points="431.8,450.0 440.4,446.3 463.6,458.7 463.6,494.5 455.0,498.2 431.8,485.8" fill="none" stroke="#24140a" stroke-width="2.0" stroke-linejoin="round"/><rect x="448" y="454" width="10" height="10" fill="#ee1111" stroke="#7a0000" stroke-width="0.6"/>
<polygon points="846.5,380.3 855.1,375.9 879.0,389.5 870.4,393.9" fill="#f9c89a"/><polygon points="846.5,380.3 870.4,393.9 870.4,429.7 846.5,416.1" fill="#ee8c4e"/><polygon points="870.4,393.9 879.0,389.5 879.0,425.3 870.4,429.7" fill="url(#gFwR)"/><g transform="matrix(0.239,0.136,0,0.358,846.5,380.3)"><rect x="0" y="0" width="100" height="100" fill="url(#gFwF)"/><path d="M0,14.3H100M0,28.6H100M0,42.9H100M0,57.1H100M0,71.4H100M0,85.7H100M12,0.0V14.3M56,0.0V14.3M34,14.3V28.6M78,14.3V28.6M12,28.6V42.9M56,28.6V42.9M34,42.9V57.1M78,42.9V57.1M12,57.1V71.4M56,57.1V71.4M34,71.4V85.7M78,71.4V85.7M12,85.7V100.0M56,85.7V100.0" stroke="#f8c9a0" stroke-width="0.9" fill="none" vector-effect="non-scaling-stroke"/></g><polyline points="846.5,380.3 870.4,393.9 879.0,389.5" fill="none" stroke="#fbe0c4" stroke-width="0.9"/><polygon points="846.5,380.3 855.1,375.9 879.0,389.5 879.0,425.3 870.4,429.7 846.5,416.1" fill="none" stroke="#24140a" stroke-width="2.0" stroke-linejoin="round"/>
<polygon points="92.9,412.0 106.8,406.0 124.0,415.3 110.1,421.3" fill="#f3ebda"/><polygon points="92.9,412.0 110.1,421.3 110.1,450.2 92.9,440.9" fill="#e4d7bb"/><polygon points="110.1,421.3 124.0,415.3 124.0,444.2 110.1,450.2" fill="url(#gBeige)"/><polyline points="92.9,412.0 110.1,421.3 124.0,415.3" fill="none" stroke="#555" stroke-width="0.8"/><line x1="110.1" y1="421.3" x2="110.1" y2="450.2" stroke="#777" stroke-width="0.8"/><g transform="matrix(0.172,0.09300000000000001,0,0.289,92.9,412)"><rect x="20" y="22" width="60" height="6" fill="#4a4a4a"/><rect x="20" y="34" width="60" height="6" fill="#4a4a4a"/><circle cx="50" cy="52" r="6" fill="#555"/><rect x="18" y="74" width="64" height="14" fill="#777"/></g><polygon points="92.9,412.0 106.8,406.0 124.0,415.3 124.0,444.2 110.1,450.2 92.9,440.9" fill="none" stroke="#1a1a1a" stroke-width="1.9" stroke-linejoin="round"/><rect x="103.1" y="413.5" width="10.4" height="10.4" fill="#ee1111" stroke="#7a0000" stroke-width="0.6"/>
<polygon points="137.1,417.6 155.7,409.7 166.8,414.8 148.2,422.7" fill="#f3ebda"/><polygon points="137.1,417.6 148.2,422.7 148.2,448.8 137.1,443.7" fill="#e4d7bb"/><polygon points="148.2,422.7 166.8,414.8 166.8,440.9 148.2,448.8" fill="url(#gBeige)"/><polyline points="137.1,417.6 148.2,422.7 166.8,414.8" fill="none" stroke="#555" stroke-width="0.8"/><line x1="148.2" y1="422.7" x2="148.2" y2="448.8" stroke="#777" stroke-width="0.8"/><g transform="matrix(0.111,0.051,0,0.261,137.1,417.6)"><rect x="20" y="22" width="60" height="6" fill="#4a4a4a"/><rect x="20" y="34" width="60" height="6" fill="#4a4a4a"/><circle cx="50" cy="52" r="6" fill="#555"/><rect x="18" y="74" width="64" height="14" fill="#777"/></g><polygon points="137.1,417.6 155.7,409.7 166.8,414.8 166.8,440.9 148.2,448.8 137.1,443.7" fill="none" stroke="#1a1a1a" stroke-width="1.9" stroke-linejoin="round"/><rect x="153.8" y="414" width="10" height="10" fill="#ee1111" stroke="#7a0000" stroke-width="0.6"/>
<polygon points="78.3,519.0 97.3,508.5 108.8,514.7 89.8,525.2" fill="#f3ebda"/><polygon points="78.3,519.0 89.8,525.2 89.8,549.0 78.3,542.8" fill="#e4d7bb"/><polygon points="89.8,525.2 108.8,514.7 108.8,538.5 89.8,549.0" fill="url(#gBeige)"/><polyline points="78.3,519.0 89.8,525.2 108.8,514.7" fill="none" stroke="#555" stroke-width="0.8"/><line x1="89.8" y1="525.2" x2="89.8" y2="549.0" stroke="#777" stroke-width="0.8"/><g transform="matrix(0.115,0.062,0,0.23800000000000002,78.3,519)"><rect x="20" y="22" width="60" height="6" fill="#4a4a4a"/><rect x="20" y="34" width="60" height="6" fill="#4a4a4a"/><circle cx="50" cy="52" r="6" fill="#555"/><rect x="18" y="74" width="64" height="14" fill="#777"/></g><polygon points="78.3,519.0 97.3,508.5 108.8,514.7 108.8,538.5 89.8,549.0 78.3,542.8" fill="none" stroke="#1a1a1a" stroke-width="1.9" stroke-linejoin="round"/><rect x="91.5" y="519" width="10.7" height="10.7" fill="#ee1111" stroke="#7a0000" stroke-width="0.6"/>
<polygon points="129.6,519.0 148.2,509.3 160.8,515.3 142.2,525.0" fill="#f3ebda"/><polygon points="129.6,519.0 142.2,525.0 142.2,551.0 129.6,545.0" fill="#e4d7bb"/><polygon points="142.2,525.0 160.8,515.3 160.8,541.3 142.2,551.0" fill="url(#gBeige)"/><polyline points="129.6,519.0 142.2,525.0 160.8,515.3" fill="none" stroke="#555" stroke-width="0.8"/><line x1="142.2" y1="525.0" x2="142.2" y2="551.0" stroke="#777" stroke-width="0.8"/><g transform="matrix(0.126,0.06,0,0.26,129.6,519)"><rect x="20" y="22" width="60" height="6" fill="#4a4a4a"/><rect x="20" y="34" width="60" height="6" fill="#4a4a4a"/><circle cx="50" cy="52" r="6" fill="#555"/><rect x="18" y="74" width="64" height="14" fill="#777"/></g><polygon points="129.6,519.0 148.2,509.3 160.8,515.3 160.8,541.3 142.2,551.0 129.6,545.0" fill="none" stroke="#1a1a1a" stroke-width="1.9" stroke-linejoin="round"/><rect x="141.8" y="513.4" width="11" height="11" fill="#ee1111" stroke="#7a0000" stroke-width="0.6"/><path d="M145.5,539 V547.4 A5.0,2 0 0 0 155.5,547.4 V539" fill="#d8e8f6" stroke="#4d6a88" stroke-width="1"/><ellipse cx="150.5" cy="539" rx="5.0" ry="2" fill="#eaf3fb" stroke="#4d6a88" stroke-width="1"/>
<polygon points="189.0,519.5 206.4,510.5 218.0,516.7 200.6,525.7" fill="#f3ebda"/><polygon points="189.0,519.5 200.6,525.7 200.6,549.6 189.0,543.4" fill="#e4d7bb"/><polygon points="200.6,525.7 218.0,516.7 218.0,540.6 200.6,549.6" fill="url(#gBeige)"/><polyline points="189.0,519.5 200.6,525.7 218.0,516.7" fill="none" stroke="#555" stroke-width="0.8"/><line x1="200.6" y1="525.7" x2="200.6" y2="549.6" stroke="#777" stroke-width="0.8"/><g transform="matrix(0.11599999999999999,0.062,0,0.239,189,519.5)"><rect x="20" y="22" width="60" height="6" fill="#4a4a4a"/><rect x="20" y="34" width="60" height="6" fill="#4a4a4a"/><circle cx="50" cy="52" r="6" fill="#555"/><rect x="18" y="74" width="64" height="14" fill="#777"/></g><polygon points="189.0,519.5 206.4,510.5 218.0,516.7 218.0,540.6 200.6,549.6 189.0,543.4" fill="none" stroke="#1a1a1a" stroke-width="1.9" stroke-linejoin="round"/><rect x="207.2" y="516.5" width="10.4" height="10.4" fill="#ee1111" stroke="#7a0000" stroke-width="0.6"/><circle cx="208.9" cy="543.4" r="5.2" fill="#2f7fd0" stroke="#1b3f6a" stroke-width="0.8"/><path d="M205.78,542.36 q2.08,-3.12 4.16,-1.56 q-0.52,3.12 -2.6,4.680000000000001 z" fill="#3aa04a"/>
<polygon points="684.0,404.0 705.9,392.9 718.4,398.6 696.5,409.7" fill="#f3ebda"/><polygon points="684.0,404.0 696.5,409.7 696.5,440.7 684.0,435.0" fill="#e4d7bb"/><polygon points="696.5,409.7 718.4,398.6 718.4,429.6 696.5,440.7" fill="url(#gBeige)"/><polyline points="684.0,404.0 696.5,409.7 718.4,398.6" fill="none" stroke="#555" stroke-width="0.8"/><line x1="696.5" y1="409.7" x2="696.5" y2="440.7" stroke="#777" stroke-width="0.8"/><g transform="matrix(0.125,0.057,0,0.31,684,404)"><rect x="20" y="22" width="60" height="6" fill="#4a4a4a"/><rect x="20" y="34" width="60" height="6" fill="#4a4a4a"/><circle cx="50" cy="52" r="6" fill="#555"/><rect x="18" y="74" width="64" height="14" fill="#777"/></g><polygon points="684.0,404.0 705.9,392.9 718.4,398.6 718.4,429.6 696.5,440.7 684.0,435.0" fill="none" stroke="#1a1a1a" stroke-width="1.9" stroke-linejoin="round"/><rect x="677.4" y="412.4" width="10.7" height="10.7" fill="#ee1111" stroke="#7a0000" stroke-width="0.6"/>
<polygon points="683.0,505.0 696.0,498.4 705.0,502.7 692.0,509.3" fill="#f3ebda"/><polygon points="683.0,505.0 692.0,509.3 692.0,526.8 683.0,522.5" fill="#e4d7bb"/><polygon points="692.0,509.3 705.0,502.7 705.0,520.2 692.0,526.8" fill="url(#gBeige)"/><polyline points="683.0,505.0 692.0,509.3 705.0,502.7" fill="none" stroke="#555" stroke-width="0.8"/><line x1="692.0" y1="509.3" x2="692.0" y2="526.8" stroke="#777" stroke-width="0.8"/><g transform="matrix(0.09,0.043,0,0.175,683,505)"><rect x="20" y="22" width="60" height="6" fill="#4a4a4a"/><rect x="20" y="34" width="60" height="6" fill="#4a4a4a"/><circle cx="50" cy="52" r="6" fill="#555"/><rect x="18" y="74" width="64" height="14" fill="#777"/></g><polygon points="683.0,505.0 696.0,498.4 705.0,502.7 705.0,520.2 692.0,526.8 683.0,522.5" fill="none" stroke="#1a1a1a" stroke-width="1.6" stroke-linejoin="round"/><rect x="689.5" y="503.6" width="9.5" height="9.5" fill="#ee1111" stroke="#7a0000" stroke-width="0.6"/>
<polygon points="844.6,460.0 859.6,453.5 869.6,458.3 854.6,464.8" fill="#f3ebda"/><polygon points="844.6,460.0 854.6,464.8 854.6,486.0 844.6,481.2" fill="#e4d7bb"/><polygon points="854.6,464.8 869.6,458.3 869.6,479.5 854.6,486.0" fill="url(#gBeige)"/><polyline points="844.6,460.0 854.6,464.8 869.6,458.3" fill="none" stroke="#555" stroke-width="0.8"/><line x1="854.6" y1="464.8" x2="854.6" y2="486.0" stroke="#777" stroke-width="0.8"/><g transform="matrix(0.1,0.048,0,0.212,844.6,460)"><rect x="20" y="22" width="60" height="6" fill="#4a4a4a"/><rect x="20" y="34" width="60" height="6" fill="#4a4a4a"/><circle cx="50" cy="52" r="6" fill="#555"/><rect x="18" y="74" width="64" height="14" fill="#777"/></g><polygon points="844.6,460.0 859.6,453.5 869.6,458.3 869.6,479.5 854.6,486.0 844.6,481.2" fill="none" stroke="#1a1a1a" stroke-width="1.6" stroke-linejoin="round"/><circle cx="862.3" cy="481.3" r="5" fill="#2f7fd0" stroke="#1b3f6a" stroke-width="0.8"/><path d="M859.3,480.3 q2.0,-3.0 4.0,-1.5 q-0.5,3.0 -2.5,4.5 z" fill="#3aa04a"/>
<line x1="701.2" y1="416.6" x2="701.2" y2="440" stroke="#4a4a4a" stroke-width="1.4"/>
<g transform="translate(186.5,407.4) scale(1.0)"><polygon points="11.6,20.5 18.6,17 40,16 45.1,20.5 45.1,25.2 28.8,34.5 11.6,25" fill="#e6e6e6" stroke="#111" stroke-width="2" stroke-linejoin="round"/><polyline points="11.6,20.5 28.8,29.5 45.1,20.5" fill="none" stroke="#777" stroke-width="0.8"/><polygon points="15.4,2.5 19.8,0.3 28,0.6 33.5,3 38.8,6.6 39.2,17 28.6,24.2 14.9,19.6" fill="#ececec" stroke="#111" stroke-width="2" stroke-linejoin="round"/><polygon points="29,1.5 33.5,3.4 38.5,6.9 38.6,10.5 29,6" fill="#2a2a2a"/><polygon points="17,5.2 27.5,10.2 27.5,21.8 16.6,17.3" fill="#f6f7f9" stroke="#555" stroke-width="1.1"/><line x1="28.6" y1="9.6" x2="28.6" y2="24" stroke="#777" stroke-width="0.8"/><polygon points="0,32.6 8.4,26.6 25.6,36.8 17.2,43.8" fill="#ececec" stroke="#111" stroke-width="2" stroke-linejoin="round"/></g><rect x="208.4" y="412.5" width="10.5" height="10.5" fill="#ee1111" stroke="#7a0000" stroke-width="0.6"/>
<g transform="translate(228.6,511.5) scale(0.99)"><polygon points="11.6,20.5 18.6,17 40,16 45.1,20.5 45.1,25.2 28.8,34.5 11.6,25" fill="#e6e6e6" stroke="#111" stroke-width="2" stroke-linejoin="round"/><polyline points="11.6,20.5 28.8,29.5 45.1,20.5" fill="none" stroke="#777" stroke-width="0.8"/><polygon points="15.4,2.5 19.8,0.3 28,0.6 33.5,3 38.8,6.6 39.2,17 28.6,24.2 14.9,19.6" fill="#ececec" stroke="#111" stroke-width="2" stroke-linejoin="round"/><polygon points="29,1.5 33.5,3.4 38.5,6.9 38.6,10.5 29,6" fill="#2a2a2a"/><polygon points="17,5.2 27.5,10.2 27.5,21.8 16.6,17.3" fill="#f6f7f9" stroke="#555" stroke-width="1.1"/><line x1="28.6" y1="9.6" x2="28.6" y2="24" stroke="#777" stroke-width="0.8"/><polygon points="0,32.6 8.4,26.6 25.6,36.8 17.2,43.8" fill="#ececec" stroke="#111" stroke-width="2" stroke-linejoin="round"/></g><rect x="253.4" y="520.5" width="10.8" height="10.8" fill="#ee1111" stroke="#7a0000" stroke-width="0.6"/>
<g transform="translate(609.8,395.4) scale(1.02)"><polygon points="11.6,20.5 18.6,17 40,16 45.1,20.5 45.1,25.2 28.8,34.5 11.6,25" fill="#e6e6e6" stroke="#111" stroke-width="2" stroke-linejoin="round"/><polyline points="11.6,20.5 28.8,29.5 45.1,20.5" fill="none" stroke="#777" stroke-width="0.8"/><polygon points="15.4,2.5 19.8,0.3 28,0.6 33.5,3 38.8,6.6 39.2,17 28.6,24.2 14.9,19.6" fill="#ececec" stroke="#111" stroke-width="2" stroke-linejoin="round"/><polygon points="29,1.5 33.5,3.4 38.5,6.9 38.6,10.5 29,6" fill="#2a2a2a"/><polygon points="17,5.2 27.5,10.2 27.5,21.8 16.6,17.3" fill="#f6f7f9" stroke="#555" stroke-width="1.1"/><line x1="28.6" y1="9.6" x2="28.6" y2="24" stroke="#777" stroke-width="0.8"/><polygon points="0,32.6 8.4,26.6 25.6,36.8 17.2,43.8" fill="#ececec" stroke="#111" stroke-width="2" stroke-linejoin="round"/></g><rect x="639.6" y="407.8" width="10" height="10" fill="#ee1111" stroke="#7a0000" stroke-width="0.6"/>
<polygon points="304.2,511.5 315.0,504.4 335.0,515.9 324.2,523.0" fill="#f2f2f2"/><polygon points="304.2,511.5 324.2,523.0 324.2,544.5 304.2,533.0" fill="#dedede"/><polygon points="324.2,523.0 335.0,515.9 335.0,537.4 324.2,544.5" fill="#e9e9e9"/><polyline points="304.2,511.5 324.2,523.0 335.0,515.9" fill="none" stroke="#555" stroke-width="0.8"/><line x1="324.2" y1="523.0" x2="324.2" y2="544.5" stroke="#777" stroke-width="0.8"/><g transform="matrix(0.2,0.115,0,0.215,304.2,511.5)"><rect x="10" y="10" width="80" height="80" fill="#d0d0d0" stroke="#666" stroke-width="3"/><line x1="30" y1="60" x2="12" y2="88" stroke="#444" stroke-width="8"/><circle cx="52" cy="44" r="26" fill="#cfe3f2" stroke="#333" stroke-width="7"/></g><polygon points="304.2,511.5 315.0,504.4 335.0,515.9 335.0,537.4 324.2,544.5 304.2,533.0" fill="none" stroke="#111" stroke-width="2.0" stroke-linejoin="round"/>
<polygon points="367.5,514.3 378.2,507.2 398.2,518.7 387.5,525.8" fill="#f2f2f2"/><polygon points="367.5,514.3 387.5,525.8 387.5,547.3 367.5,535.8" fill="#dedede"/><polygon points="387.5,525.8 398.2,518.7 398.2,540.2 387.5,547.3" fill="#e9e9e9"/><polyline points="367.5,514.3 387.5,525.8 398.2,518.7" fill="none" stroke="#555" stroke-width="0.8"/><line x1="387.5" y1="525.8" x2="387.5" y2="547.3" stroke="#777" stroke-width="0.8"/><g transform="matrix(0.2,0.115,0,0.215,367.5,514.3)"><rect x="10" y="10" width="80" height="80" fill="#d0d0d0" stroke="#666" stroke-width="3"/><line x1="30" y1="60" x2="12" y2="88" stroke="#444" stroke-width="8"/><circle cx="52" cy="44" r="26" fill="#cfe3f2" stroke="#333" stroke-width="7"/></g><polygon points="367.5,514.3 378.2,507.2 398.2,518.7 398.2,540.2 387.5,547.3 367.5,535.8" fill="none" stroke="#111" stroke-width="2.0" stroke-linejoin="round"/>
<polygon points="485.5,510.5 496.3,503.6 516.5,515.0 505.7,521.9" fill="#f2f2f2"/><polygon points="485.5,510.5 505.7,521.9 505.7,542.3 485.5,530.9" fill="#dedede"/><polygon points="505.7,521.9 516.5,515.0 516.5,535.4 505.7,542.3" fill="#e9e9e9"/><polyline points="485.5,510.5 505.7,521.9 516.5,515.0" fill="none" stroke="#555" stroke-width="0.8"/><line x1="505.7" y1="521.9" x2="505.7" y2="542.3" stroke="#777" stroke-width="0.8"/><g transform="matrix(0.20199999999999999,0.114,0,0.204,485.5,510.5)"><rect x="10" y="10" width="80" height="80" fill="#d0d0d0" stroke="#666" stroke-width="3"/><line x1="30" y1="60" x2="12" y2="88" stroke="#444" stroke-width="8"/><circle cx="52" cy="44" r="26" fill="#cfe3f2" stroke="#333" stroke-width="7"/></g><polygon points="485.5,510.5 496.3,503.6 516.5,515.0 516.5,535.4 505.7,542.3 485.5,530.9" fill="none" stroke="#111" stroke-width="2.0" stroke-linejoin="round"/>
<polygon points="542.8,510.0 548.3,506.0 581.3,506.0 575.8,510.0" fill="#6f80bb"/><polygon points="542.8,510.0 575.8,510.0 575.8,526.3 542.8,526.3" fill="#42559a"/><polygon points="575.8,510.0 581.3,506.0 581.3,522.3 575.8,526.3" fill="#2f3f7e"/><polygon points="542.8,510.0 548.3,506.0 581.3,506.0 581.3,522.3 575.8,526.3 542.8,526.3" fill="none" stroke="#2a3566" stroke-width="0.8" stroke-linejoin="round"/>
<circle cx="549.5" cy="518" r="3.6" fill="#e8ecf8"/><rect x="556" y="516.5" width="14" height="3" fill="#c9d0ea" opacity="0.8"/>
<polygon points="610.6,510.1 624.7,502.1 651.5,518.2 637.4,526.2" fill="#ececec"/><polygon points="610.6,510.1 637.4,526.2 637.4,537.0 610.6,520.9" fill="#5e5e5e"/><polygon points="637.4,526.2 651.5,518.2 651.5,529.0 637.4,537.0" fill="#dcdcdc"/><polyline points="610.6,510.1 637.4,526.2 651.5,518.2" fill="none" stroke="#555" stroke-width="0.8"/><line x1="637.4" y1="526.2" x2="637.4" y2="537.0" stroke="#777" stroke-width="0.8"/><ellipse cx="613.3" cy="515.0" rx="1.5" ry="1.7" fill="#3a3a3a" stroke="#cfcfcf" stroke-width="0.7"/><ellipse cx="613.3" cy="519.5" rx="1.5" ry="1.7" fill="#3a3a3a" stroke="#cfcfcf" stroke-width="0.7"/><ellipse cx="617.6" cy="517.5" rx="1.5" ry="1.7" fill="#3a3a3a" stroke="#cfcfcf" stroke-width="0.7"/><ellipse cx="617.6" cy="522.1" rx="1.5" ry="1.7" fill="#3a3a3a" stroke="#cfcfcf" stroke-width="0.7"/><ellipse cx="621.9" cy="520.1" rx="1.5" ry="1.7" fill="#3a3a3a" stroke="#cfcfcf" stroke-width="0.7"/><ellipse cx="621.9" cy="524.6" rx="1.5" ry="1.7" fill="#3a3a3a" stroke="#cfcfcf" stroke-width="0.7"/><ellipse cx="626.1" cy="522.7" rx="1.5" ry="1.7" fill="#3a3a3a" stroke="#cfcfcf" stroke-width="0.7"/><ellipse cx="626.1" cy="527.2" rx="1.5" ry="1.7" fill="#3a3a3a" stroke="#cfcfcf" stroke-width="0.7"/><ellipse cx="630.4" cy="525.3" rx="1.5" ry="1.7" fill="#3a3a3a" stroke="#cfcfcf" stroke-width="0.7"/><ellipse cx="630.4" cy="529.8" rx="1.5" ry="1.7" fill="#3a3a3a" stroke="#cfcfcf" stroke-width="0.7"/><ellipse cx="634.7" cy="527.8" rx="1.5" ry="1.7" fill="#3a3a3a" stroke="#cfcfcf" stroke-width="0.7"/><ellipse cx="634.7" cy="532.4" rx="1.5" ry="1.7" fill="#3a3a3a" stroke="#cfcfcf" stroke-width="0.7"/><polygon points="610.6,510.1 624.7,502.1 651.5,518.2 651.5,529.0 637.4,537.0 610.6,520.9" fill="none" stroke="#111" stroke-width="2.1" stroke-linejoin="round"/>
<polygon points="772.3,465.9 792.4,454.2 812.4,465.9 792.3,477.6" fill="#f2f2f2"/><polygon points="772.3,465.9 792.3,477.6 792.3,489.6 772.3,477.9" fill="#e2e2e2"/><polygon points="792.3,477.6 812.4,465.9 812.4,477.9 792.3,489.6" fill="#d8d8d8"/><polyline points="772.3,465.9 792.3,477.6 812.4,465.9" fill="none" stroke="#555" stroke-width="0.8"/><line x1="792.3" y1="477.6" x2="792.3" y2="489.6" stroke="#777" stroke-width="0.8"/><polygon points="772.3,465.9 792.4,454.2 812.4,465.9 812.4,477.9 792.3,489.6 772.3,477.9" fill="none" stroke="#111" stroke-width="2.1" stroke-linejoin="round"/>
<line x1="800" y1="469.9" x2="787" y2="462.6" stroke="#a01818" stroke-width="2.8"/><polygon points="783.2,460.4 794.5,460.6 784.5,467.5" fill="#c0161a"/>
<line x1="731" y1="470.2" x2="787" y2="469.1" stroke="#5c88b4" stroke-width="1.5"/>
<line x1="812" y1="469.3" x2="846" y2="469.5" stroke="#5c88b4" stroke-width="1.5"/>
<rect x="790.1" y="476.5" width="10.4" height="10.3" fill="#ee1111" stroke="#7a0000" stroke-width="0.6"/>
<text x="333.3" y="113.5" font-size="10.70" letter-spacing="0.81" fill="#3d4956" stroke="#3d4956" stroke-width="0.2" font-weight="normal" text-anchor="middle">省调接入网</text>
<text x="567.3" y="113.3" font-size="10.91" letter-spacing="0.82" fill="#3d4956" stroke="#3d4956" stroke-width="0.2" font-weight="normal" text-anchor="middle">地调接入网</text>
<text x="296.9" y="187.1" font-size="10.77" letter-spacing="0.81" fill="#606060" stroke="#606060" stroke-width="0.18" font-weight="normal" text-anchor="middle">省调路</text>
<text x="296.9" y="201.6" font-size="10.56" letter-spacing="0.79" fill="#606060" stroke="#606060" stroke-width="0.18" font-weight="normal" text-anchor="middle">由器</text>
<text x="618.4" y="183.2" font-size="11.09" letter-spacing="0.84" fill="#606060" stroke="#606060" stroke-width="0.18" font-weight="normal" text-anchor="middle">地调路</text>
<text x="618.4" y="198.2" font-size="11.06" letter-spacing="0.83" fill="#606060" stroke="#606060" stroke-width="0.18" font-weight="normal" text-anchor="middle">由器</text>
<text x="239.9" y="247.2" font-size="10.87" letter-spacing="0.82" fill="#606060" stroke="#606060" stroke-width="0.18" font-weight="normal" text-anchor="middle">省调实时</text>
<text x="239.6" y="260.8" font-size="11.04" letter-spacing="0.83" fill="#606060" stroke="#606060" stroke-width="0.18" font-weight="normal" text-anchor="middle">纵向加密</text>
<text x="436.4" y="246.6" font-size="10.53" letter-spacing="0.79" fill="#606060" stroke="#606060" stroke-width="0.18" font-weight="normal" text-anchor="middle">省调非实时</text>
<text x="437.3" y="260.7" font-size="11.06" letter-spacing="0.83" fill="#606060" stroke="#606060" stroke-width="0.18" font-weight="normal" text-anchor="middle">纵向加密</text>
<text x="578.9" y="241.3" font-size="11.16" letter-spacing="0.84" fill="#606060" stroke="#606060" stroke-width="0.18" font-weight="normal" text-anchor="middle">地调实时</text>
<text x="578.9" y="254.4" font-size="11.16" letter-spacing="0.84" fill="#606060" stroke="#606060" stroke-width="0.18" font-weight="normal" text-anchor="middle">纵向加密</text>
<text x="697.0" y="241.8" font-size="11.24" letter-spacing="0.85" fill="#606060" stroke="#606060" stroke-width="0.18" font-weight="normal" text-anchor="middle">地调非实时</text>
<text x="697.0" y="254.9" font-size="11.55" letter-spacing="0.87" fill="#606060" stroke="#606060" stroke-width="0.18" font-weight="normal" text-anchor="middle">纵向加密</text>
<text x="244.6" y="301.0" font-size="10.87" letter-spacing="0.82" fill="#606060" stroke="#606060" stroke-width="0.18" font-weight="normal" text-anchor="middle">省调实时</text>
<text x="244.2" y="314.2" font-size="10.93" letter-spacing="0.82" fill="#606060" stroke="#606060" stroke-width="0.18" font-weight="normal" text-anchor="middle">交换机</text>
<text x="426.2" y="301.7" font-size="11.02" letter-spacing="0.83" fill="#606060" stroke="#606060" stroke-width="0.18" font-weight="normal" text-anchor="middle">省调非实</text>
<text x="425.8" y="315.5" font-size="10.80" letter-spacing="0.81" fill="#606060" stroke="#606060" stroke-width="0.18" font-weight="normal" text-anchor="middle">时交换机</text>
<text x="572.3" y="298.0" font-size="11.16" letter-spacing="0.84" fill="#606060" stroke="#606060" stroke-width="0.18" font-weight="normal" text-anchor="middle">地调实时</text>
<text x="572.3" y="312.3" font-size="10.77" letter-spacing="0.81" fill="#606060" stroke="#606060" stroke-width="0.18" font-weight="normal" text-anchor="middle">交换机</text>
<text x="697.6" y="301.9" font-size="11.03" letter-spacing="0.83" fill="#606060" stroke="#606060" stroke-width="0.18" font-weight="normal" text-anchor="middle">地调非实时</text>
<text x="697.6" y="316.6" font-size="11.00" letter-spacing="0.83" fill="#606060" stroke="#606060" stroke-width="0.18" font-weight="normal" text-anchor="middle">交换机</text>
<text x="285.6" y="424.7" font-size="8.62" letter-spacing="0.65" fill="#606060" stroke="#606060" stroke-width="0.18" font-weight="normal" text-anchor="middle">网络安全监测装</text>
<text x="285.9" y="439.5" font-size="9.85" letter-spacing="0.74" fill="#606060" stroke="#606060" stroke-width="0.18" font-weight="normal" text-anchor="middle">置</text>
<text x="549.6" y="424.9" font-size="8.62" letter-spacing="0.65" fill="#606060" stroke="#606060" stroke-width="0.18" font-weight="normal" text-anchor="middle">网络安全监测装</text>
<text x="550.4" y="438.0" font-size="9.30" letter-spacing="0.70" fill="#606060" stroke="#606060" stroke-width="0.18" font-weight="normal" text-anchor="middle">置</text>
<text x="374.3" y="438.6" font-size="11.06" letter-spacing="0.83" fill="#606060" stroke="#606060" stroke-width="0.18" font-weight="normal" text-anchor="middle">通信网关机</text>
<text x="480.9" y="433.1" font-size="11.31" letter-spacing="0.85" fill="#606060" stroke="#606060" stroke-width="0.18" font-weight="normal" text-anchor="middle">通信网关机</text>
<text x="99.0" y="384.9" font-size="10.70" letter-spacing="0.81" fill="#606060" stroke="#606060" stroke-width="0.18" font-weight="normal" text-anchor="middle">风电场运行</text>
<text x="99.7" y="398.8" font-size="11.38" letter-spacing="0.86" fill="#606060" stroke="#606060" stroke-width="0.18" font-weight="normal" text-anchor="middle">监视系统</text>
<text x="135.0" y="390.0" font-size="13.64" fill="#555" stroke="#555" stroke-width="0.35" textLength="41.0" lengthAdjust="spacingAndGlyphs">AVC/AGC</text>
<text x="155.5" y="402.5" font-size="11.32" letter-spacing="0.85" fill="#606060" stroke="#606060" stroke-width="0.18" font-weight="normal" text-anchor="middle">服务器</text>
<text x="187.0" y="386.5" font-size="14.39" fill="#555" stroke="#555" stroke-width="0.35" textLength="42.4" lengthAdjust="spacingAndGlyphs">AVC/AGC</text>
<text x="207.9" y="399.1" font-size="10.12" letter-spacing="0.76" fill="#606060" stroke="#606060" stroke-width="0.18" font-weight="normal" text-anchor="middle">工作站</text>
<text x="38.0" y="462.6" font-size="11.13" letter-spacing="0.84" fill="#333" stroke="#333" stroke-width="0.18" font-weight="normal" text-anchor="middle">站控层</text>
<text x="38.0" y="476.5" font-size="11.13" letter-spacing="0.84" fill="#333" stroke="#333" stroke-width="0.18" font-weight="normal" text-anchor="middle">交换机</text>
<text x="93.3" y="568.7" font-size="11.06" letter-spacing="0.83" fill="#606060" stroke="#606060" stroke-width="0.18" font-weight="normal" text-anchor="middle">五防主机</text>
<text x="149.7" y="566.6" font-size="11.29" letter-spacing="0.85" fill="#606060" stroke="#606060" stroke-width="0.18" font-weight="normal" text-anchor="middle">综合自</text>
<text x="149.7" y="580.7" font-size="11.29" letter-spacing="0.85" fill="#606060" stroke="#606060" stroke-width="0.18" font-weight="normal" text-anchor="middle">动化系</text>
<text x="149.8" y="594.9" font-size="13.68" letter-spacing="1.03" fill="#606060" stroke="#606060" stroke-width="0.18" font-weight="normal" text-anchor="middle">统</text>
<text x="201.7" y="559.0" font-size="11.31" letter-spacing="0.85" fill="#606060" stroke="#606060" stroke-width="0.18" font-weight="normal" text-anchor="middle">监控</text>
<text x="201.7" y="572.6" font-size="11.31" letter-spacing="0.85" fill="#606060" stroke="#606060" stroke-width="0.18" font-weight="normal" text-anchor="middle">主机</text>
<text x="319.5" y="558.7" font-size="11.08" letter-spacing="0.83" fill="#606060" stroke="#606060" stroke-width="0.18" font-weight="normal" text-anchor="middle">防病毒系统</text>
<text x="382.8" y="561.0" font-size="10.80" letter-spacing="0.81" fill="#606060" stroke="#606060" stroke-width="0.18" font-weight="normal" text-anchor="middle">入侵检测</text>
<text x="500.2" y="557.9" font-size="11.23" letter-spacing="0.85" fill="#606060" stroke="#606060" stroke-width="0.18" font-weight="normal" text-anchor="middle">入侵检测</text>
<text x="561.4" y="546.9" font-size="10.92" letter-spacing="0.82" fill="#606060" stroke="#606060" stroke-width="0.18" font-weight="normal" text-anchor="middle">安全审计</text>
<text x="635.0" y="560.3" font-size="10.54" letter-spacing="0.79" fill="#606060" stroke="#606060" stroke-width="0.18" font-weight="normal" text-anchor="middle">电能量</text>
<text x="634.4" y="574.9" font-size="11.66" letter-spacing="0.88" fill="#606060" stroke="#606060" stroke-width="0.18" font-weight="normal" text-anchor="middle">采集</text>
<text x="692.5" y="549.7" font-size="11.66" letter-spacing="0.88" fill="#606060" stroke="#606060" stroke-width="0.18" font-weight="normal" text-anchor="middle">故障</text>
<text x="692.5" y="563.8" font-size="11.66" letter-spacing="0.88" fill="#606060" stroke="#606060" stroke-width="0.18" font-weight="normal" text-anchor="middle">录波</text>
<text x="450.1" y="510.2" font-size="11.13" letter-spacing="0.84" fill="#606060" stroke="#606060" stroke-width="0.18" font-weight="normal" text-anchor="middle">防火墙</text>
<text x="409.9" y="599.4" font-size="10.87" letter-spacing="0.82" fill="#606060" stroke="#606060" stroke-width="0.18" font-weight="normal" text-anchor="middle">安全一区</text>
<text x="498.1" y="600.5" font-size="10.97" letter-spacing="0.83" fill="#606060" stroke="#606060" stroke-width="0.18" font-weight="normal" text-anchor="middle">安全二区</text>
<text x="632.6" y="376.5" font-size="11.38" letter-spacing="0.86" fill="#606060" stroke="#606060" stroke-width="0.18" font-weight="normal" text-anchor="middle">功率预测</text>
<text x="632.6" y="390.1" font-size="11.32" letter-spacing="0.85" fill="#606060" stroke="#606060" stroke-width="0.18" font-weight="normal" text-anchor="middle">工作站</text>
<text x="705.7" y="375.8" font-size="10.77" letter-spacing="0.81" fill="#606060" stroke="#606060" stroke-width="0.18" font-weight="normal" text-anchor="middle">功率预测</text>
<text x="706.2" y="390.6" font-size="10.96" letter-spacing="0.83" fill="#606060" stroke="#606060" stroke-width="0.18" font-weight="normal" text-anchor="middle">服务器</text>
<text x="749.2" y="503.4" font-size="10.96" letter-spacing="0.83" fill="#333" stroke="#333" stroke-width="0.18" font-weight="normal" text-anchor="middle">站控层</text>
<text x="749.2" y="516.9" font-size="10.96" letter-spacing="0.83" fill="#333" stroke="#333" stroke-width="0.18" font-weight="normal" text-anchor="middle">交换机</text>
<text x="789.2" y="439.4" font-size="11.21" letter-spacing="0.84" fill="#d9474b" stroke="#d9474b" stroke-width="0.18" font-weight="normal" text-anchor="middle">反向隔离</text>
<text x="875.4" y="509.3" font-size="11.00" letter-spacing="0.83" fill="#606060" stroke="#606060" stroke-width="0.18" font-weight="normal" text-anchor="middle">气象信息服务系</text>
<text x="875.4" y="523.4" font-size="12.14" letter-spacing="0.91" fill="#606060" stroke="#606060" stroke-width="0.18" font-weight="normal" text-anchor="middle">统</text>
<text x="902.9" y="416.8" font-size="11.42" letter-spacing="0.86" fill="#606060" stroke="#606060" stroke-width="0.18" font-weight="normal" text-anchor="middle">防火墙</text>
<text x="864.6" y="282.8" font-size="11.08" letter-spacing="0.83" fill="#606060" stroke="#606060" stroke-width="0.18" font-weight="normal" text-anchor="middle">天气预报外网</text>
<text x="872.9" y="582.5" font-size="10.95" letter-spacing="0.82" fill="#606060" stroke="#606060" stroke-width="0.18" font-weight="normal" text-anchor="middle">安全接入区</text>
<line x1="445" y1="351.2" x2="445" y2="636" stroke="#333" stroke-width="2.4" stroke-dasharray="22.5 11.6"/>
</svg></body></html>
